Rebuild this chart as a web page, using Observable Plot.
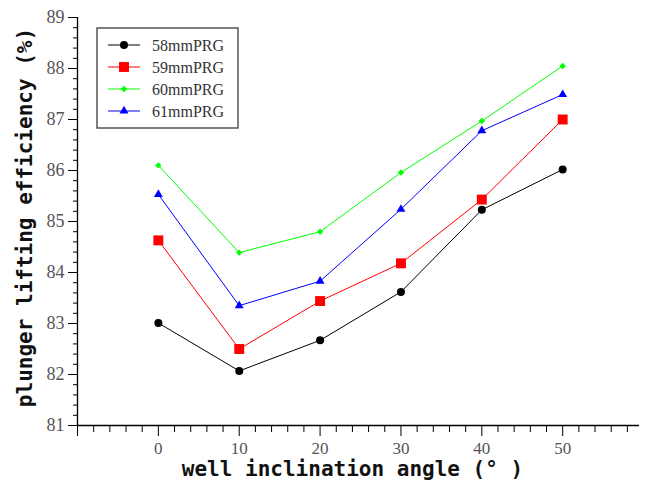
<!DOCTYPE html>
<html><head><meta charset="utf-8">
<script src="https://cdn.jsdelivr.net/npm/d3@7"></script>
<script src="https://cdn.jsdelivr.net/npm/@observablehq/plot@0.6"></script>
<style>body{margin:0;background:#fff}#chart{width:649px;height:483px}</style>
</head><body><div id="chart"></div>
<script>
const angles = [0, 10, 20, 30, 40, 50];
const s58 = [83.01, 82.07, 82.67, 83.62, 85.23, 86.02];
const s59 = [84.63, 82.50, 83.44, 84.18, 85.43, 87.00];
const s60 = [86.10, 84.39, 84.80, 85.96, 86.97, 88.05];
const s61 = [85.53, 83.35, 83.83, 85.24, 86.78, 87.49];
const seriesNames = ["58mmPRG", "59mmPRG", "60mmPRG", "61mmPRG"];
const seriesValues = [s58, s59, s60, s61];
const seriesColors = ["#000000", "#ff0000", "#00ff00", "#0000ff"];
const seriesSymbols = ["circle", "square", "diamond2", "triangle"];
const seriesR = [4, 5.6, 2.9, 3.3];
const yTicks = [81, 82, 83, 84, 85, 86, 87, 88, 89];
const xTicks = [0, 10, 20, 30, 40, 50];
const xMajorTicks = [-10, 0, 10, 20, 30, 40, 50];
const xMinorTicks = d3.range(-8, 59, 2).filter(v => v % 10 !== 0);
const yMinorTicks = d3.range(0, 41).map(i => +(81 + i * 0.2).toFixed(1)).filter(v => !Number.isInteger(v));
const xTitle = "well inclination angle (° )";
const yTitle = "plunger lifting efficiency (%)";

const xDomain = [-10, 59.5];
const yDomain = [81, 89];

const marks = [
  Plot.ruleX([xDomain[0]], {y1: yDomain[0], y2: yDomain[1], stroke: "#000", strokeWidth: 1.3}),
  Plot.ruleY([yDomain[0]], {x1: xDomain[0], x2: xDomain[1], stroke: "#000", strokeWidth: 1.3}),
  Plot.axisY(yMinorTicks, {anchor: "left", tickSize: 4, text: null, label: null, stroke: "#000"}),
  Plot.axisY(yTicks, {anchor: "left", tickSize: 9, tickPadding: 4, label: null, stroke: "#000", fill: "#555",
    tickFormat: d => String(d), fontSize: 18, fontFamily: "Liberation Serif"}),
  Plot.axisX(xMinorTicks, {anchor: "bottom", tickSize: 7, text: null, label: null, stroke: "#000"}),
  Plot.axisX(xMajorTicks, {anchor: "bottom", tickSize: 11, text: null, label: null, stroke: "#000"}),
  Plot.axisX(xTicks, {anchor: "bottom", tickSize: 0, tickPadding: 16, label: null, fill: "#555",
    tickFormat: d => String(d), fontSize: 17, fontFamily: "Liberation Serif"}),
  Plot.text([yTitle], {frameAnchor: "left", dx: -52, dy: -4, rotate: -90, textAnchor: "middle", lineAnchor: "middle",
    fontSize: 21, fontWeight: "bold", fontFamily: "DejaVu Sans Mono", fill: "#111"}),
  Plot.text([xTitle], {frameAnchor: "bottom", dy: 44, dx: -6, textAnchor: "middle", lineAnchor: "middle",
    fontSize: 21, fontWeight: "bold", fontFamily: "DejaVu Sans Mono", fill: "#111"})
];

seriesNames.forEach((name, i) => {
  const rows = angles.map((a, j) => ({angle: a, value: seriesValues[i][j], series: name}));
  marks.push(Plot.line(rows, {x: "angle", y: "value", stroke: seriesColors[i], strokeWidth: 1}));
});
seriesNames.forEach((name, i) => {
  const rows = angles.map((a, j) => ({angle: a, value: seriesValues[i][j], series: name}));
  marks.push(Plot.dot(rows, {x: "angle", y: "value", fill: seriesColors[i], symbol: seriesSymbols[i], r: seriesR[i], stroke: "none"}));
});

const chart = Plot.plot({
  width: 649,
  height: 483,
  marginLeft: 77,
  marginRight: 10,
  marginTop: 17,
  marginBottom: 58,
  x: {domain: xDomain},
  y: {domain: yDomain},
  style: {background: "#fff"},
  marks
});

// Legend
const svg = d3.select(chart);
const lg = svg.append("g").attr("transform", "translate(97,28)");
lg.append("rect").attr("x", 0).attr("y", 0).attr("width", 141).attr("height", 100)
  .attr("fill", "#fff").attr("stroke", "#555").attr("stroke-width", 1.5);
const symMap = {circle: d3.symbolCircle, square: d3.symbolSquare, diamond2: d3.symbolDiamond2, triangle: d3.symbolTriangle};
seriesNames.forEach((name, i) => {
  const cy = 17 + i * 22;
  const g = lg.append("g").attr("transform", `translate(0,${cy})`);
  g.append("line").attr("x1", 11).attr("x2", 43).attr("y1", 0).attr("y2", 0)
    .attr("stroke", seriesColors[i]).attr("stroke-width", 1);
  g.append("path").attr("transform", "translate(27,0)")
    .attr("d", d3.symbol(symMap[seriesSymbols[i]], seriesR[i] * seriesR[i] * Math.PI)())
    .attr("fill", seriesColors[i]);
  g.append("text").attr("x", 55).attr("y", 0).attr("dy", "0.35em").attr("text-anchor", "start")
    .attr("font-family", "Liberation Serif").attr("font-size", 16).attr("fill", "#333").text(name);
});

document.getElementById("chart").appendChild(chart);
</script>
</body></html>
